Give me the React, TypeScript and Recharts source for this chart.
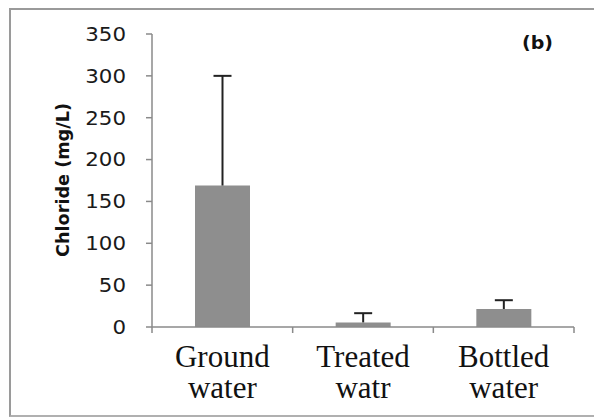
import React from "react";
import { BarChart, Bar, XAxis, YAxis } from "recharts";

const categories = ["Ground water", "Treated watr", "Bottled water"];
const labelLine1 = ["Ground", "Treated", "Bottled"];
const labelLine2 = ["water", "watr", "water"];
const means = [169, 5.5, 21.5];
const errors = [131, 11, 10.5];
const yTicks = [0, 50, 100, 150, 200, 250, 300, 350];

const data = categories.map((c, i) => ({
  name: c,
  mean: means[i],
  err: errors[i],
}));

const AXIS = "#8a8a8a";

const YTick = (props: any) => {
  const { x, y, payload } = props;
  const s = String(payload.value);
  return (
    <text
      x={x}
      y={y}
      dy="0.36em"
      textAnchor="end"
      fontFamily="DejaVu Sans"
      fontSize={19}
      fill="#1a1a1a"
      textLength={s.length * 13.6}
      lengthAdjust="spacingAndGlyphs"
    >
      {s}
    </text>
  );
};

const XTick = (props: any) => {
  const { x, y, index, payload } = props;
  const half = payload && payload.offset ? payload.offset : 0;
  return (
    <g>
      <line x1={x - half} y1={y} x2={x - half} y2={y + 6} stroke={AXIS} strokeWidth={1.5} />
      {index === categories.length - 1 ? (
        <line x1={x + half} y1={y} x2={x + half} y2={y + 6} stroke={AXIS} strokeWidth={1.5} />
      ) : null}
      <text
        x={x}
        y={y}
        textAnchor="middle"
        fontFamily="Liberation Serif"
        fontSize={31}
        fill="#111"
      >
        <tspan x={x} dy={40}>{labelLine1[index]}</tspan>
        <tspan x={x} dy={31}>{labelLine2[index]}</tspan>
      </text>
    </g>
  );
};

const ErrShape = (props: any) => {
  const { x, y, width, height } = props;
  const cx = x + width / 2;
  return (
    <g>
      <line x1={cx} y1={y} x2={cx} y2={y + height} stroke="#222" strokeWidth={2} />
      <line x1={cx - 9} y1={y} x2={cx + 9} y2={y} stroke="#222" strokeWidth={2} />
    </g>
  );
};

export default function App() {
  return (
    <div style={{ position: "absolute", left: 0, top: 0, width: 594, height: 417, background: "#fff", overflow: "hidden" }}>
      <div
        style={{
          position: "absolute",
          left: 9,
          top: 8,
          width: 620,
          height: 405,
          borderLeft: "2px solid #9a9a9a",
          borderTop: "2px solid #9a9a9a",
          borderBottom: "2px solid #b0b0b0",
        }}
      />
      <div style={{ position: "absolute", left: 0, top: 0 }}>
        <BarChart
          width={594}
          height={417}
          data={data}
          margin={{ top: 34, right: 20, bottom: 89, left: 0 }}
        >
          <XAxis
            dataKey="name"
            tick={<XTick />}
            tickLine={false}
            tickSize={0}
            tickMargin={0}
            axisLine={{ stroke: AXIS, strokeWidth: 1.5 }}
            interval={0}
            height={1}
          />
          <YAxis
            domain={[0, 350]}
            ticks={yTicks}
            width={152}
            tickSize={6}
            tickMargin={20}
            tick={<YTick />}
            axisLine={{ stroke: AXIS, strokeWidth: 1.5 }}
            tickLine={{ stroke: AXIS, strokeWidth: 1.5 }}
          />
          <Bar dataKey="mean" stackId="a" fill="#8e8e8e" barSize={55} isAnimationActive={false} />
          <Bar dataKey="err" stackId="a" fill="none" barSize={55} shape={<ErrShape />} isAnimationActive={false} />
        </BarChart>
      </div>
      <svg width={594} height={417} style={{ position: "absolute", left: 0, top: 0, pointerEvents: "none" }}>
        <text
          x={62.5}
          y={180}
          transform="rotate(-90 62.5 180)"
          textAnchor="middle"
          dominantBaseline="central"
          fontFamily="DejaVu Sans"
          fontWeight="bold"
          fontSize={17}
          fill="#111"
          textLength={154}
          lengthAdjust="spacingAndGlyphs"
        >
          Chloride (mg/L)
        </text>
        <text
          x={522}
          y={43}
          dominantBaseline="central"
          fontFamily="DejaVu Sans"
          fontWeight="bold"
          fontSize={17}
          fill="#111"
          textLength={31}
          lengthAdjust="spacingAndGlyphs"
        >
          (b)
        </text>
      </svg>
    </div>
  );
}
